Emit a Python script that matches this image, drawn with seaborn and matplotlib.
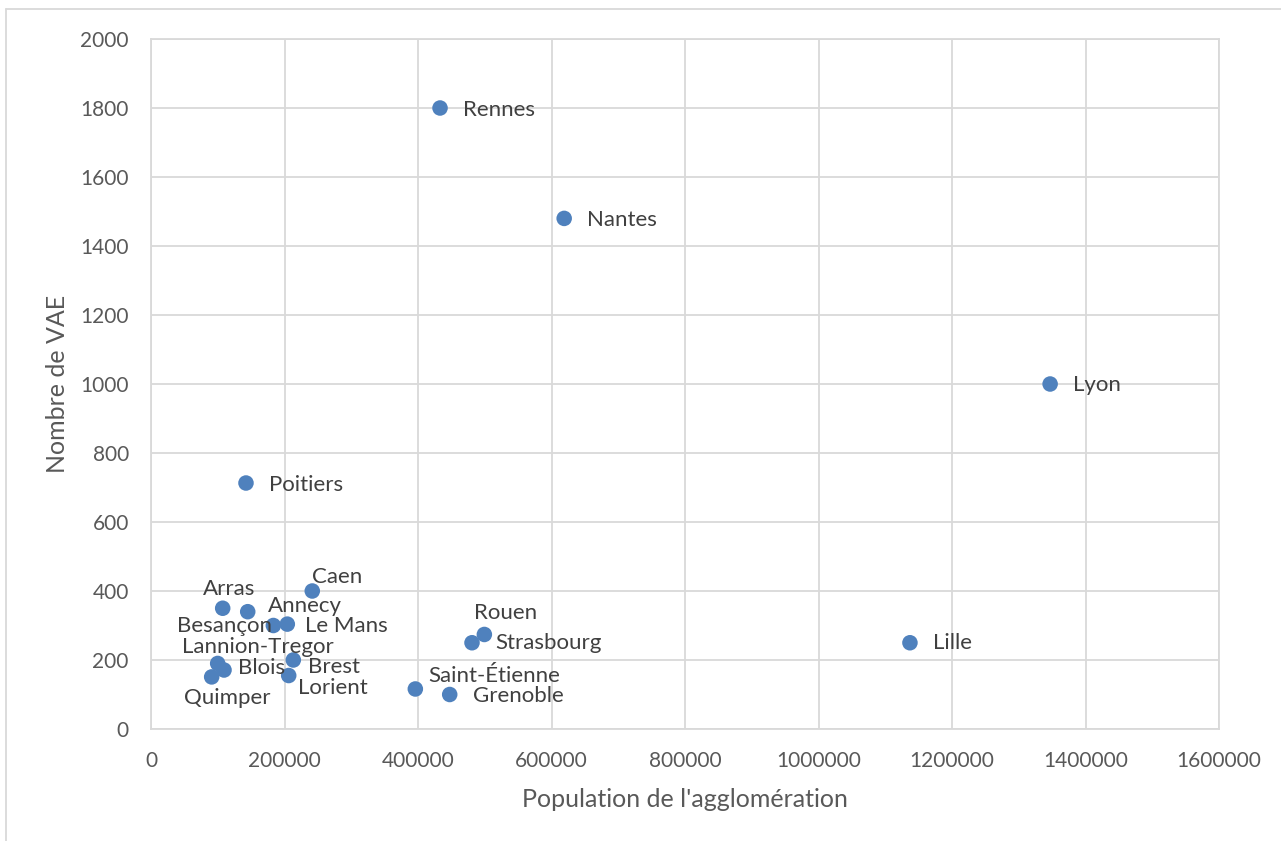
import matplotlib
matplotlib.use("Agg")
import matplotlib.pyplot as plt
from matplotlib.lines import Line2D
import pandas as pd
import seaborn as sns


cities = [
    "Rennes", "Nantes", "Lyon", "Poitiers", "Lille", "Caen", "Arras",
    "Annecy", "Besançon", "Le Mans", "Lannion-Tregor", "Blois", "Quimper",
    "Brest", "Lorient", "Saint-Étienne", "Grenoble", "Rouen", "Strasbourg",
]
population = [
    433000, 619000, 1347000, 142300, 1137000, 241600, 107400,
    144900, 183300, 204200, 99900, 109400, 90900,
    213200, 206300, 396000, 447500, 499400, 480900,
]
nb_vae = [
    1800, 1480, 1000, 713, 250, 400, 350,
    340, 300, 304, 190, 171, 151,
    200, 155, 116, 100, 274, 250,
]

# label placement: (dx, dy) in pixels, horizontal alignment
label_pos = {
    "Rennes": (23, -2, "left"),
    "Nantes": (23, -2, "left"),
    "Lyon": (23, -1, "left"),
    "Poitiers": (23, -2, "left"),
    "Lille": (23, 0, "left"),
    "Caen": (0, 14, "left"),
    "Arras": (6, 19, "center"),
    "Annecy": (20, 6, "left"),
    "Besançon": (-1, 0, "right"),
    "Le Mans": (18, -2, "left"),
    "Lannion-Tregor": (40, 16, "center"),
    "Blois": (14, 2, "left"),
    "Quimper": (16, -21, "center"),
    "Brest": (15, -7, "left"),
    "Lorient": (9, -12, "left"),
    "Saint-Étienne": (13, 13, "left"),
    "Grenoble": (23, -2, "left"),
    "Rouen": (21, 21, "center"),
    "Strasbourg": (23, 0, "left"),
}

df = pd.DataFrame({"city": cities, "pop": population, "vae": nb_vae})

sns.set_style("white")
plt.rcParams["font.family"] = ["Lato", "DejaVu Sans"]

fig = plt.figure(figsize=(12.81, 8.41), dpi=100)
ax = fig.add_axes([151 / 1281, 1 - 729 / 841, (1219 - 151) / 1281, (729 - 39) / 841])

sns.scatterplot(data=df, x="pop", y="vae", color="#4f81bd", s=125,
                edgecolor="none", ax=ax, zorder=3)

for name, x, y in zip(cities, population, nb_vae):
    dx, dy, ha = label_pos[name]
    ax.annotate(name, (x, y), xytext=(dx, dy), textcoords="offset pixels",
                ha=ha, va="center", fontsize=16, color="#404040", zorder=4)

ax.set_xlim(0, 1600000)
ax.set_ylim(0, 2000)
ax.set_xticks(range(0, 1600001, 200000))
ax.set_yticks(range(0, 2001, 200))
ax.set_xticklabels([str(v) for v in range(0, 1600001, 200000)])
ax.grid(True, color="#d9d9d9", linewidth=1.3)
ax.set_axisbelow(True)
for side in ax.spines.values():
    side.set_color("#d9d9d9")
    side.set_linewidth(1.3)
ax.tick_params(axis="both", length=0, labelsize=15, colors="#595959", pad=16)
ax.set_xlabel("Population de l'agglomération", fontsize=18, color="#595959", labelpad=12)
ax.set_ylabel("Nombre de VAE", fontsize=18, color="#595959", labelpad=8)

# outer chart frame
fig.add_artist(Line2D([6 / 1281, 6 / 1281], [0, 1 - 9 / 841], color="#d9d9d9", lw=1.3,
                      transform=fig.transFigure))
fig.add_artist(Line2D([6 / 1281, 1], [1 - 9 / 841, 1 - 9 / 841], color="#d9d9d9", lw=1.3,
                      transform=fig.transFigure))

fig.savefig("out.png", dpi=100)
